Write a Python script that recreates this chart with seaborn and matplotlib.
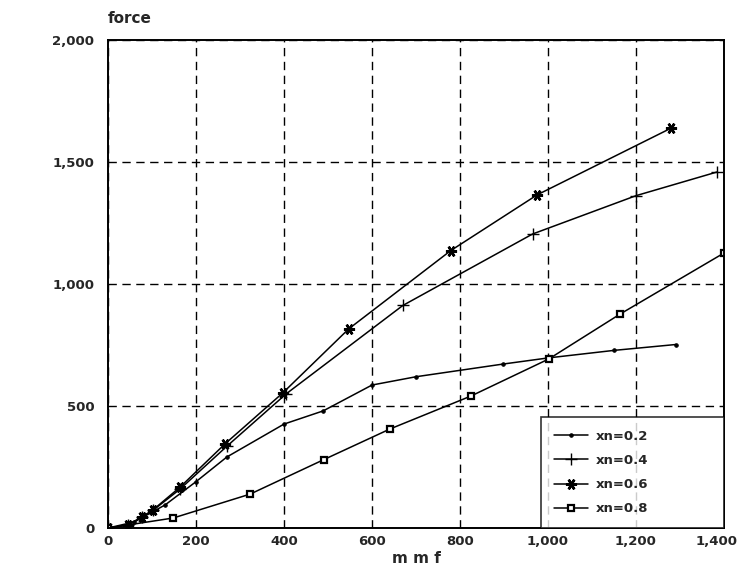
import pandas as pd
import seaborn as sns
import matplotlib.pyplot as plt
from matplotlib.transforms import ScaledTranslation

# values
mmf_02 = [0, 60, 130, 200, 270, 400, 489, 600, 700, 898, 1000, 1150, 1290]
force_02 = [0, 25, 95, 190, 291, 426, 480, 586, 620, 672, 697, 728, 752]

mmf_04 = [0, 45, 77, 102, 164, 270, 405, 670, 965, 1200, 1384]
force_04 = [0, 12, 45, 72, 160, 335, 550, 912, 1205, 1362, 1459]

mmf_06 = [0, 45, 77, 102, 164, 266, 398, 547, 779, 975, 1280]
force_06 = [0, 12, 45, 74, 168, 345, 555, 816, 1137, 1365, 1639]

mmf_08 = [0, 148, 323, 490, 641, 825, 1002, 1164, 1400]
force_08 = [0, 41, 139, 280, 406, 541, 693, 877, 1127]

labels = ['xn=0.2', 'xn=0.4', 'xn=0.6', 'xn=0.8']
x_ticks = [0, 200, 400, 600, 800, 1000, 1200, 1400]
y_ticks = [0, 500, 1000, 1500, 2000]

sns.set_style('white')
plt.rcParams['font.family'] = ['DejaVu Sans']

fig = plt.figure(figsize=(7.43, 5.74), dpi=100)
ax = fig.add_axes([0.1454, 0.0801, 0.829, 0.8502])

series = [
    (mmf_02, force_02, dict(marker='o', markersize=2.5)),
    (mmf_04, force_04, dict(marker='+', markersize=8, markeredgewidth=1.0)),
    (mmf_06, force_06, dict(marker=(6, 2, 90), markersize=8, markeredgewidth=1.8)),
    (mmf_08, force_08, dict(marker='s', markersize=5, markerfacecolor='white',
                            markeredgewidth=1.6)),
]
for (xs, ys, style), lab in zip(series, labels):
    df = pd.DataFrame({'mmf': xs, 'force': ys})
    sns.lineplot(data=df, x='mmf', y='force', ax=ax, color='black', linewidth=1.1,
                 sort=False, label=lab, markeredgecolor='black', **style)

ax.set_xlim(0, 1400)
ax.set_ylim(0, 2000)
ax.set_xticks(x_ticks)
ax.set_yticks(y_ticks)
ax.set_xticklabels([f'{v:,}' for v in x_ticks], fontsize=9.5, fontweight='bold')
ax.set_yticklabels([f'{v:,}' for v in y_ticks], fontsize=9.5, fontweight='bold')
ax.tick_params(length=0)
ax.tick_params(axis='x', pad=5)
ax.tick_params(axis='y', pad=10)
# keep the last x label inside the figure
last = ax.get_xticklabels()[-1]
last.set_transform(last.get_transform() + ScaledTranslation(-0.07, 0, fig.dpi_scale_trans))

ax.grid(True, color='black', linestyle=(0, (6, 4)), linewidth=1.0)
for sp in ax.spines.values():
    sp.set_color('black')
    sp.set_linewidth(1.4)

ax.set_xlabel('m m f', fontsize=11, fontweight='bold', labelpad=2)
ax.set_ylabel('')
fig.text(0.145, 0.968, 'force', fontsize=11, fontweight='bold', ha='left', va='center')

leg = ax.legend(loc='lower right', bbox_to_anchor=(0.703, 0.0, 0.297, 0.22), mode='expand',
                borderaxespad=0, fancybox=False, edgecolor='black',
                fontsize=9.5, handlelength=2.6, labelspacing=0.85, borderpad=0.95,
                handletextpad=0.6)
leg.get_frame().set_linewidth(1.2)
for t in leg.get_texts():
    t.set_fontweight('bold')

fig.savefig('out.png', dpi=100)
